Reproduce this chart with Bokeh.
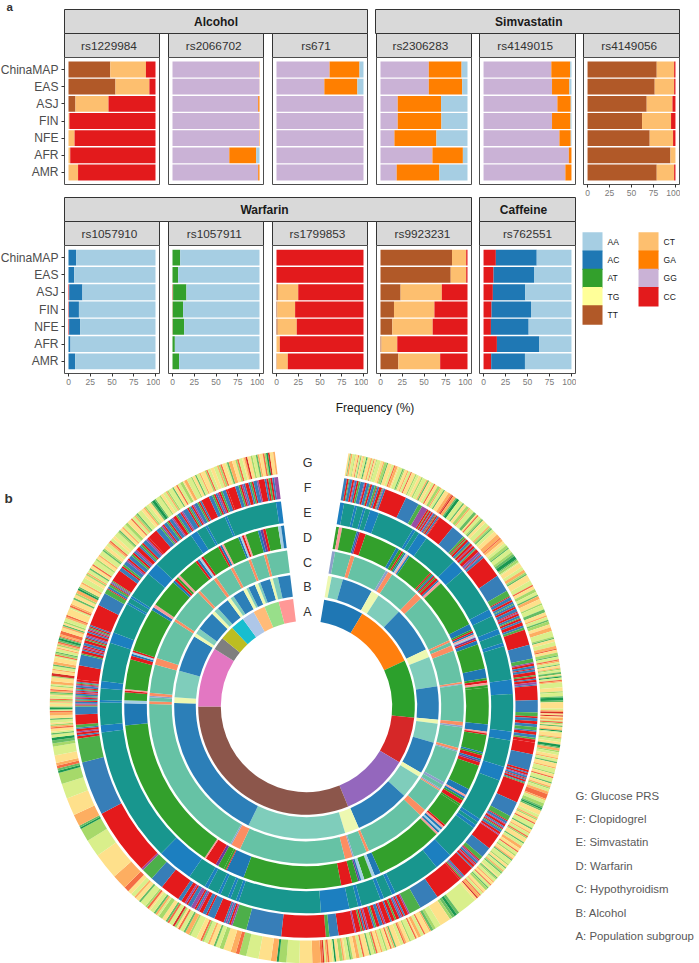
from math import pi
from bokeh.embed import file_html
from bokeh.resources import INLINE
from bokeh.plotting import figure
from bokeh.layouts import column, row
from bokeh.models import Range1d, FactorRange, FixedTicker, ColumnDataSource
from bokeh.core.properties import value

FONT = "Liberation Sans"
pops = ["ChinaMAP", "EAS", "ASJ", "FIN", "NFE", "AFR", "AMR"]
geno_colors = {"AA": "#a6cee3", "AC": "#1f78b4", "AT": "#33a02c", "TG": "#ffff99", "TT": "#b15928",
               "CT": "#fdbf6f", "GA": "#ff7f00", "GG": "#cab2d6", "CC": "#e31a1c"}
legend_col0 = ["AA", "AC", "AT", "TG", "TT"]
legend_col1 = ["CT", "GA", "GG", "CC"]

# frequencies per population, stacked from 0 in the order of *_stack
rs1229984_stack = ["TT", "CT", "CC"]
rs1229984 = [[48, 41, 11], [54, 39, 7], [8, 38, 54], [0, 1, 99], [0, 7, 93], [0, 2, 98], [0, 11, 89]]
rs2066702_stack = ["GG", "GA", "AA"]
rs2066702 = [[99.7, .3, 0], [99.9, .1, 0], [98.5, 1.5, 0], [99.8, .2, 0], [99.5, .5, 0], [65.3, 30.9, 3.8], [98.5, 1.5, 0]]
rs671_stack = ["GG", "GA", "AA"]
rs671 = [[61, 34.4, 4.6], [55, 38, 7], [100, 0, 0], [100, 0, 0], [100, 0, 0], [100, 0, 0], [100, 0, 0]]
rs2306283_stack = ["GG", "GA", "AA"]
rs2306283 = [[55.5, 37.7, 6.8], [55.5, 38.4, 6.1], [19.8, 49.8, 30.4], [19.8, 50.2, 30], [16, 48.3, 35.7], [59.7, 35, 5.3], [18.6, 49.1, 32.3]]
rs4149015_stack = ["GG", "GA", "AA"]
rs4149015 = [[77.1, 21.4, 1.5], [77.9, 19.8, 2.3], [84, 15.2, .8], [77.9, 21, 1.1], [86.3, 12.9, .8], [97, 3, 0], [93.1, 6.9, 0]]
rs4149056_stack = ["TT", "CT", "CC"]
rs4149056 = [[78.7, 19.8, 1.5], [76.4, 22.1, 1.5], [67.3, 29.3, 3.4], [62, 33, 5], [70.7, 26.6, 2.7], [94.3, 5.7, 0], [78.7, 19.8, 1.5]]
rs1057910_stack = ["CC", "AC", "AA"]
rs1057910 = [[0, 8.7, 91.3], [0, 6.5, 93.5], [.8, 15.2, 84], [.5, 11.5, 88], [.7, 12.6, 86.7], [0, 2.3, 97.7], [0, 7.6, 92.4]]
rs1057911_stack = ["TT", "AT", "AA"]
rs1057911 = [[0, 8.8, 91.2], [0, 6.5, 93.5], [.7, 15.3, 84], [.3, 11.9, 87.8], [.3, 13.1, 86.6], [0, 2.7, 97.3], [0, 7.6, 92.4]]
rs1799853_stack = ["TT", "CT", "CC"]
rs1799853 = [[0, 0, 100], [0, 0, 100], [1.5, 23.5, 75], [1, 20.4, 78.6], [1.3, 22, 76.7], [0, 3.8, 96.2], [.4, 12.6, 87]]
rs9923231_stack = ["TT", "CT", "CC"]
rs9923231 = [[82.2, 16.3, 1.5], [80.7, 17.8, 1.5], [23.1, 47.4, 29.5], [15.5, 46.5, 38], [13.6, 46.4, 40], [1.1, 18.2, 80.7], [20.5, 48.1, 31.4]]
rs762551_stack = ["CC", "AC", "AA"]
rs762551 = [[14, 46.5, 39.5], [11.4, 46, 42.6], [10.6, 36.9, 52.5], [9.1, 44.9, 46], [8.4, 42.9, 48.7], [15.2, 48.3, 36.5], [8.7, 38.4, 52.9]]

# circular panel: rings run clockwise from the top, in degrees. Each section = (end angle, runs)
ring_names = ["A", "B", "C", "D", "E", "F", "G"]
ring_inner = [85.7, 110.7, 134.7, 159.7, 184.7, 209, 234]
ring_outer = [108.3, 132.3, 157.3, 182.3, 206.7, 231.3, 256.7]
ring_start = 9.4
ring_legend = ["G: Glucose PRS", "F: Clopidogrel", "E: Simvastatin", "D: Warfarin", "C: Hypothyroidism", "B: Alcohol", "A: Population subgroup"]

ring_a_colors = {"a": "#1f77b4", "b": "#ff7f0e", "c": "#2ca02c", "d": "#d62728", "e": "#9467bd", "f": "#8c564b", "g": "#e377c2",
                 "h": "#7f7f7f", "i": "#bcbd22", "j": "#17becf", "k": "#aec7e8", "l": "#ffbb78", "m": "#98df8a", "n": "#ff9896"}
ring_a = [(31, "a1"), (65, "b1"), (96, "c1"), (121, "d1"), (157.4, "e1"), (270, "f1"), (302, "g1"), (309, "h1"), (316.6, "i1"),
          (324, "j1"), (330.8, "k1"), (337.2, "l1"), (345.1, "m1"), (352.9, "n1")]

ring_b_colors = {"b": "#2c7fb8", "t": "#7fcdbb", "y": "#edf8b1"}
ring_b = [(11, "y1"), (16, "t1"), (29.5, "b1"), (33, "y1"), (44.3, "t1"), (64.5, "b1"), (68, "y1"), (81.2, "t1"), (95.8, "b1"),
          (97.5, "y1"), (105.9, "t1"), (120, "b1"), (122, "y1"), (132.4, "t1"), (156.7, "b1"), (163, "y1"), (206, "t1"),
          (271.5, "b1"), (274, "y1"), (285.7, "t1"), (302, "b1"), (303.5, "y1"), (306, "t1"), (314.5, "b1"), (316, "y1"),
          (318, "t1"), (323.5, "b1"), (325, "y1"), (326.5, "t1"), (331.5, "b1"), (333, "y1"), (334, "t1"), (337, "b1"),
          (338.5, "y1"), (339.5, "t1"), (344, "b1"), (345.2, "y1"), (347.5, "t1"), (352.9, "b1")]

ring_c_colors = {"g": "#66c2a5", "o": "#fc8d62", "p": "#8da0cb"}
ring_c = [(10.5, "p1"), (16.4, "g1"), (17.8, "o1"), (30.3, "g1"), (31.3, "p1"), (33, "o1"), (44.2, "g1"), (46.7, "o1"), (65.1, "g1"),
          (65.9, "o1"), (67.2, "g1"), (69.2, "o1"), (81, "g1"), (82, "o2 p1"), (95.7, "g1"), (97.7, "o2 p1"), (105.3, "g1"),
          (106.7, "o2 p1"), (118.9, "g1"), (119.9, "p1"), (121.4, "g1"), (122.4, "p1 o1"), (131.2, "g1"), (133.7, "o1"),
          (156.6, "g1"), (157.6, "o1"), (162.5, "g1"), (163, "p1"), (165.8, "o1"), (205, "g1"), (208.5, "o1"), (209, "p1"),
          (270.9, "g1"), (271.9, "o1"), (273.4, "g1"), (275, "p1 o2"), (285.5, "g1"), (288, "o1"), (302.8, "g1"), (303.8, "o1"),
          (316.4, "g1"), (317.4, "o1"), (323.9, "g1"), (325.1, "o1"), (331.2, "g1"), (332.2, "o1"), (338.3, "g1"), (339.3, "o1"),
          (344.3, "g1"), (345.3, "o1"), (352.9, "g1")]

ring_d_colors = {"g": "#33a02c", "b": "#1f78b4", "r": "#e31a1c", "l": "#a6cee3", "s": "#fb9a99", "p": "#6a3d9a"}
ring_d = [(10.3, "g1"), (11.3, "s1"), (16, "g1"), (17, "b1 p1"), (19, "r1"), (29.5, "g1"), (34.5, "b2 g2 r1 g1 b1 l1 s1 b1"), (42.8, "g1"),
          (47.5, "r1 g1 b1 r1 g1 r2 b1 s2"), (63.2, "g1"), (65, "b1"), (70, "g1 r1 b1 s1 l1 p1 r1 b2"), (78, "g1"), (81, "b1"),
          (84, "g1 r1 s1 g1"), (95.7, "g1"), (98, "b1"), (99, "s1 r1"), (104.5, "g1"), (109, "b1 g1 r2 b1 p1 r2"), (117, "g1"),
          (119, "b1"), (123, "s1 b1 g1 r2 g1"), (130.5, "g1"), (134.5, "r1 s1 b1 l1 b1 s1"), (156, "g1"), (158, "b1"), (159, "l1"),
          (161.5, "g1"), (162.5, "l1"), (163.5, "b1 p1"), (165.5, "g1"), (169, "r1"), (200.2, "g1"), (206, "b1"), (207, "r1 g2"),
          (209, "g1"), (213.5, "p1 r4"), (214, "s1"), (264, "g1"), (271, "b1"), (272, "l1"), (274.5, "g1"), (275.5, "r1 s1"),
          (285, "g1"), (288, "r2 b1 l1 r1"), (302, "g1"), (304, "b1 s1"), (313, "g1"), (316, "b1 r1 g1 s1"), (322.5, "g1"),
          (325.5, "r1 b1 l1 r1"), (331, "g1"), (333, "r1 b1 s1"), (338, "g1"), (340.5, "b1 l1 r1 s1"), (344.5, "g1"),
          (347, "b1 p1 r1"), (351, "g1"), (352.9, "l1 b1")]

ring_e_colors = {"t": "#18968e", "b": "#1c7fc0"}
ring_e = [(10.5, "b1"), (13.5, "t1"), (14.2, "b1"), (16, "t1"), (16.6, "b1"), (18, "t1"), (20.5, "b1"), (31, "t1"), (31.8, "b1"), (33, "t1"),
          (35.5, "b1"), (45.5, "t1"), (49, "b1"), (62, "t1"), (64, "b1"), (68, "t1"), (69.5, "b1"), (72, "t1"), (73, "b1"), (82.5, "t1"),
          (86.5, "b1"), (97, "t1"), (99.5, "b1"), (107, "t1"), (111, "b1"), (123, "t1"), (124, "b1"), (125, "t1"), (126, "b1"),
          (136, "t1"), (141, "b1"), (154.5, "t1"), (155.5, "b1"), (158, "t1"), (159, "b1"), (164.5, "t1"), (165.5, "b1"), (168, "t1"),
          (176, "b1"), (199.2, "t1"), (200, "b1"), (201.6, "t1"), (202.4, "b1"), (204.6, "t1"), (205.4, "b1"), (208.5, "t1"), (209.5, "b1"),
          (214.5, "t1"), (224.7, "b1"), (262.8, "t1"), (264.8, "b1"), (271.2, "t1"), (271.8, "b1"), (275.1, "t1"), (277.1, "b1"),
          (288, "t1"), (291, "b1"), (299.7, "t1"), (300.3, "b1"), (301.7, "t1"), (302.3, "b1"), (310, "t1"), (313.5, "b1"),
          (326, "t1"), (328, "b1"), (330.7, "t1"), (331.3, "b1"), (336.7, "t1"), (337.3, "b1"), (351.5, "t1"), (352.9, "b1")]

ring_f_colors = {"r": "#e41a1c", "b": "#377eb8", "g": "#4daf4a", "p": "#984ea3"}
ring_f = [(20, "b3 r2 g1 b3 r2 p1 b2 r2 g2 b4 p1 r2 b3 g1 r2 b3 g2 r1 b2 r3 g1 p1 b2"), (25.5, "r1"), (29, "b1"), (30, "g1"), (31.5, "p1"),
          (35.2, "r2 g1 r2 b1 r2 p1 b2 r1 g1 r2 b2 r1"), (39.2, "r1"), (42.7, "b1"), (50, "g2 r1 g1 r2 b2 g1 r2 p1 r2 b1 g1 r3 p2 b1 r1 p1 b2"),
          (55.6, "r1"), (60, "b1"), (61.5, "g1"), (70, "r1 b3 r2 b2 g1 b2 r2 b3 r1 p1 r2 b2 g1 r2 b2 r3 b2"), (70.6, "g1"), (74.5, "r1"), (78, "b1"),
          (79, "g1"), (84.8, "p1 r2 b2 r1 b2 r3 g1 r2 b1 r2 p2 b1"), (88.4, "r1"), (91.5, "b1"), (92.5, "g1"),
          (99, "r1 b2 r2 b2 g2 b1 r2 b2 g1 r2"), (102, "r1"), (106, "b1"), (109.5, "r2 b1 r2 p1 b2 r1 b1 r2 b1 g1"), (114.5, "r1"), (118.3, "b1"),
          (119.5, "g1"), (123.8, "r1 b2 p1 r2 b1 p1 r1 g1 b2 r2 p1"), (127.8, "r1"), (130.5, "b1"), (131.5, "g1"), (134.3, "r1 p1 b2 r1 p1 r2 b1"),
          (137, "r1"), (138.5, "b1 p1 g1 r1"), (145.5, "r1"), (150.5, "b1"), (153.5, "g1"),
          (168, "p1 r2 b1 r1 p1 b1 r2 g1 r2 b1 r3 p1 r1 b2 r2 g1 b1 r3 p1 r1 b1 r1 g1 r3 p1"), (172, "r1"), (174.3, "b1"), (175.2, "g1"), (186.3, "r1"),
          (195.1, "b1"), (198.7, "g1"), (201, "p1 r1 b1 p1 b1"), (203.5, "r1"), (205.3, "b1"), (213.7, "r1 b2 r2 p1 b1 r1 p2 b2 r1 p1 r2 b2"),
          (218.7, "r1"), (222, "b1"), (225, "g1"), (225.5, "p1"), (242.4, "r1"), (256, "b1"), (262, "g1"), (264.7, "r2 b1 r2 p1 r2 b1"), (265.5, "g1"),
          (268, "r1"), (270, "b1"), (276.7, "g1 r1 p1 b2 r1 g1 b1 r1 p1 g1 b2 r1 p1 r1 b1 g1 r1 b2 p1 r1 g1 b1 r2"), (280.3, "r1"), (283, "b1"),
          (290.7, "g1 r2 b1 r1 p1 r1 b2 r2 g1 r1 b1 p1 r2 b1 r1 p1 g1 r1 b1"), (296, "r1"), (299.3, "b1"), (300.5, "g1"),
          (303, "r1 b2 g2 r1 b1 p1 g1"), (306, "r1"), (317, "b2 r1 g1 b2 p1 r1 b2 g1 r1 b1 p1 r2 b1 g1 r1 b2 p1 r1"), (319.5, "r1"),
          (333, "b3 g1 p1 r1 b2 g1 r1 b2 p1 r2 g1 b2 r1 p1 b3 r1 g1 b1 r1 p1 b2 g1 r1 b1"), (335, "r1"), (340, "b2 g1 r1 b1 p1 r1 g1 b2 r1"),
          (342, "r1"), (348, "b2 g1 r1 p1 b1 r2 b1 g1 r1 b2 p1"), (349.5, "r1"), (352.9, "b1 r1 g1 r1 b1 p2")]

ring_g_colors = {"y": "#fee08b", "l": "#d9ef8b", "m": "#a6d96a", "o": "#fdae61", "d": "#f46d43", "e": "#66bd63", "f": "#1a9850", "k": "#d73027"}
ring_g = [(16, "y2 e1 o2 l3 m1 y3 d1 l2 e1 y2 o1 l3 f1 m1 y3 o2 l2 d1 y2 m1"),
          (26, "l3 y2 o1 m2 e1 y3 l2 d1 o2 y1 l3 e1 m1 y2 o1 l2 d1 y3 m1 l2"),
          (36.5, "y2 m1 l3 o1 e1 y2 l2 d1 y2 m2 o1 l2 e1 y3 o2 d1 k1 o2 e1 f2"),
          (47, "l3 e1 y2 m2 o1 l3 e2 y1 d1 l2 m1 e1 y2 l3 o1 m1 e1 l2"),
          (53, "y3 o3 d1 o2 y2 l2 m2 e1 l3"), (56, "m2 e2 f3 e1 m2 l1"),
          (72, "y3 l2 o2 m1 e1 y4 l3 d1 y2 m2 l2 e1 o2 y3 m1 l3 e2 y2 o1 l2 e1 m2 y2"),
          (80, "o3 l4 m1 e1 y2 l3 o2 d1 y2 m2 e1 l2 d1 o1"), (84, "l2 e1 y2 o1 m1 l2 e2 y1 m1 f1 l2"), (88, "d1 o1 l4 y3 m1 l3 e1"),
          (89, "f2 e1"), (92, "y4 l1 o1 k1 y1"), (96, "k1 y1 o2 l1 d1 m1 y1 e1 y2 o1 f1 l1"), (100, "y3 o1 m1 l2 y2 f2 e1 o2"),
          (110, "m1 l2 y2 o1 l2 e1 y3 o1 l3 m1 y2 d1 l3 e1 y2 o1 m1 l2 o2"), (111.5, "d3 o1"), (114, "l2 m2 e1 f1 e1"),
          (128, "y3 l2 o1 m1 y2 d1 l3 e1 y2 o1 l2 d1 m1 y3 e1 l2 o2 y2 d1 l2 m1 y2 o1 e1 l3"),
          (139, "m1 y2 e1 l2 o1 m1 e1 l3 y1 e1 m1 l2 o1 y2 d1 l2 e1 m2 y2 o1 l2 d1 o2 k1 y2"), (143.5, "l1"), (146, "e1 f1 e1 m1"), (148.5, "y1"),
          (151, "l2 m1 e1"), (162, "o1 y3 d1 l2 o2 y1 d1 l3 m1 y2 o1 d1 l2 y3 e1 o1 l1 d1 y2 m1"),
          (176, "l2 o1 y2 d1 m1 l2 e1 y3 d1 l2 o2 y2 m1 e1 l2 y1 o1 m2 y2 f1 l1 y2 d1 o1 l1"),
          (176.3, "k1"), (176.8, "d1"), (178.7, "o1"), (181.6, "y1"), (184.5, "l1"), (186.2, "m1"), (186.7, "f1"), (188, "o1"), (190.8, "y1"),
          (193.6, "l1"), (195.2, "m1"), (196, "d1"), (197.2, "o1"), (198.9, "y1"),
          (224, "m2 l2 e1 y2 o1 l2 m1 d1 y2 l3 m1 o2 e1 l2 d1 y1 m1 k1 l2 d1 e1 y2 m2 l1 o1 e1 l2 y1 d1 m1 l3 e1 y2 o1 l2 y2"),
          (228.5, "d1 o3"), (234.5, "y1"), (238.5, "l1"), (241.5, "m1"), (242.3, "f1 e1"), (245, "o1"), (249, "y1"), (252.4, "l1"), (255, "m1"),
          (256, "f1 e1"), (257.3, "d1 o1"), (259, "y1"), (261, "l1"), (262.4, "m1 e1"), (263, "f1"),
          (270, "l2 e1 l1 y2 d1 o1 m1 y1 l2 e1 y2 o2 d1 l1 f1 e1"), (277.5, "y2 l1 o1 m1 d1 l2 y1 m1 e1 o1 d1 y2 m1 l1 o2 y3 m1 k2"),
          (285, "y2 o1 l2 e1 o2 y3 l1 d1 m1 e1 l2 o1 y1 m1 o1 d1 e1"), (286, "f2 e1 d1"),
          (297, "o1 d2 y2 o1 e1 y1 m1 l2 o1 d1 y4 l1 d1 o1 y3 e1 y2 m1 o2"), (299, "f1 e1 y2 o1"),
          (311, "l3 y2 m1 o1 l2 e1 y2 d1 l3 m1 y2 o1 l3 e1 m1 y2 l2 o1 d1 l2"),
          (323, "y2 l3 m1 e1 y2 o1 l2 m2 y3 d1 l2 o1 m1 e1 l3 y2 o1 m1 l2 y2 e1"), (324, "f2 e1"),
          (338, "l3 m1 y2 l2 o1 m1 l3 e1 y2 d1 l2 m2 y1 o2 l3 m1 y2 e1 l2 o1 y3 m1 d1 l2"),
          (352.9, "y2 l2 o1 m1 d1 y2 l1 e1 o2 y2 m1 d1 l2 y1 o1 k1 y2 m1 l2 e1 o1 y2 d1 m1 f1 k1 y2 o1")]

LINE = "#4d4d4d"


def bare(**kw):
    p = figure(x_axis_location=None, y_axis_location=None, toolbar_location=None, output_backend="svg", **kw)
    p.xgrid.visible = False
    p.ygrid.visible = False
    p.outline_line_color = None
    p.border_fill_color = None
    p.background_fill_color = None
    return p


def strip(x0, x1, y0, label, size, bold, color, margin_left, margin_top, shift=0):
    p = bare(width=x1 - x0 + 2, height=y0[1] - y0[0] + 2, x_range=Range1d(0, 1), y_range=Range1d(0, 1), min_border=1,
             margin=(margin_top, 0, 0, margin_left))
    p.background_fill_color = "#d9d9d9"
    p.outline_line_color = "#333333"
    p.outline_line_width = 1
    p.text([0.5], [0.5], text=[label], x_offset=shift, text_align="center", text_baseline="middle", text_font=value(FONT),
           text_font_size=size, text_font_style="bold" if bold else "normal", text_color=color)
    return p


def panel(stack, rows, x0, x1, y0, y1, show_y, show_x, margin_left, margin_top):
    left = 84 if show_y else 1
    fw = x1 - x0
    p = figure(width=fw + left + 1, height=y1 - y0 + 1 + 16,
               x_range=Range1d(-4.6, 104.6),
               y_range=FactorRange(factors=list(reversed(pops)), range_padding=0.2, range_padding_units="absolute"),
               x_axis_location="below" if show_x else None, y_axis_location="left" if show_y else None,
               min_border_left=left, min_border_right=1, min_border_top=1, min_border_bottom=16,
               toolbar_location=None, output_backend="svg", margin=(margin_top, 0, 0, margin_left))
    p.xgrid.visible = False
    p.ygrid.visible = False
    p.border_fill_color = None
    p.outline_line_color = LINE
    p.outline_line_width = 1
    lefts = [0.0] * len(pops)
    for j, g in enumerate(stack):
        vals = [r[j] for r in rows]
        p.hbar(y=pops, left=lefts, right=[a + b for a, b in zip(lefts, vals)], height=0.92, color=geno_colors[g], line_color=None)
        lefts = [a + b for a, b in zip(lefts, vals)]
    if show_x:
        p.xaxis.ticker = FixedTicker(ticks=[0, 25, 50, 75, 100])
        p.xaxis.major_label_text_font = FONT
        p.xaxis.major_label_text_font_size = "8.5px"
        p.xaxis.major_label_text_color = "#7a7a7a"
        p.xaxis.major_label_standoff = 2
        p.xaxis.axis_line_color = None
        p.xaxis.major_tick_line_color = "#333333"
        p.xaxis.major_tick_out = 3
        p.xaxis.major_tick_in = 0
        p.xaxis.minor_tick_line_color = None
    if show_y:
        p.yaxis.major_label_text_font = FONT
        p.yaxis.major_label_text_font_size = "12.1px"
        p.yaxis.major_label_text_color = "#4d4d4d"
        p.yaxis.major_label_standoff = 3
        p.yaxis.axis_line_color = None
        p.yaxis.major_tick_line_color = "#333333"
        p.yaxis.major_tick_out = 3
        p.yaxis.major_tick_in = 0
    return p


X = [(64, 159), (168, 263), (272, 367), (376, 471), (479, 575), (583, 679)]

# --- first block
a_fig = bare(width=40, height=14, x_range=Range1d(0, 40), y_range=Range1d(0, 14), min_border=0, margin=(0, 0, 0, 0))
a_fig.text([6], [0.5], text=["a"], text_font=value(FONT), text_font_size="11.5px", text_font_style="bold", text_color="#333333")

r1 = row(a_fig,
         strip(64, 367, (9, 33), "Alcohol", "12px", True, "#1a1a1a", 63 - 40, 8),
         strip(375, 679, (9, 33), "Simvastatin", "12px", True, "#1a1a1a", 374 - 368, 8, 1.3),
         spacing=0)

names1 = ["rs1229984", "rs2066702", "rs671", "rs2306283", "rs4149015", "rs4149056"]
shifts1 = [-3, -2.3, -4, -3.6, -2.3, -2.3]
names2 = ["rs1057910", "rs1057911", "rs1799853", "rs9923231", "rs762551"]
shifts2 = [-2.5, -1.7, -2.5, -1.5, 0]


def sub_strips(names, shifts, y, margin_top):
    out = []
    cur = 0
    for (a, b), n, s in zip(X, names, shifts):
        out.append(strip(a, b, y, n, "11.8px", False, "#333333", a - 1 - cur, margin_top, s))
        cur = b + 1
    return row(*out, spacing=0)


r2 = sub_strips(names1, shifts1, (33, 57), -2)

data1 = [(rs1229984_stack, rs1229984), (rs2066702_stack, rs2066702), (rs671_stack, rs671),
         (rs2306283_stack, rs2306283), (rs4149015_stack, rs4149015), (rs4149056_stack, rs4149056)]
cur = 0
ch = []
for i, ((st, rows_), (a, b)) in enumerate(zip(data1, X)):
    p = panel(st, rows_, a, b, 57, 184, i == 0, i == 5, -20 if i == 0 else a - 1 - cur, -2)
    ch.append(p)
    cur = b + 1
r3 = row(*ch, spacing=0)

# --- second block
cap_strips = row(strip(64, 471, (197, 221), "Warfarin", "12px", True, "#1a1a1a", 63, -4, -3.5),
                 strip(479, 575, (197, 221), "Caffeine", "12px", True, "#1a1a1a", 478 - 472, -4, -4), spacing=0)
r5 = sub_strips(names2, shifts2, (221, 245), -2)

data2 = [(rs1057910_stack, rs1057910), (rs1057911_stack, rs1057911), (rs1799853_stack, rs1799853),
         (rs9923231_stack, rs9923231), (rs762551_stack, rs762551)]
cur = 0
ch = []
for i, ((st, rows_), (a, b)) in enumerate(zip(data2, X)):
    p = panel(st, rows_, a, b, 245, 373, i == 0, True, -20 if i == 0 else a - 1 - cur, -2)
    ch.append(p)
    cur = b + 1

# legend: 56 px between columns, 21.3 px between rows
leg = bare(width=121, height=117, x_range=Range1d(-0.25, 1.91), y_range=Range1d(4.8, -0.69), min_border=0,
           margin=(-18, 0, 0, 578 - cur))
for col_i, names in enumerate([legend_col0, legend_col1]):
    rows_i = list(range(len(names)))
    xs = [col_i] * len(names)
    leg.rect(xs, rows_i, width=20, height=19.5, width_units="screen", height_units="screen",
             color=[geno_colors[n] for n in names], line_color=None)
    leg.text(xs, rows_i, text=names, x_offset=15, text_baseline="middle", text_font=value(FONT),
             text_font_size="8.5px", text_color="#1a1a1a")
ch.append(leg)
r6 = row(*ch, spacing=0)

freq = bare(width=699, height=20, x_range=Range1d(0, 699), y_range=Range1d(0, 20), min_border=0, margin=(8, 0, 0, 0))
freq.text([374.5], [10], text=["Frequency (%)"], text_align="center", text_baseline="middle", text_font=value(FONT),
          text_font_size="12px", text_color="#1a1a1a")

# --- circular panel (1 data unit = 1 px, origin at the centre of the circle)
circ = bare(width=699, height=547, x_range=Range1d(-306, 393), y_range=Range1d(-257, 290), min_border=0, margin=(-1, 0, 0, 0))


def expand(sections, colors):
    starts, ends, cols = [], [], []
    prev = ring_start
    for end, runs in sections:
        toks = runs.split()
        total = sum(int(t[1:]) for t in toks)
        a = prev
        for t in toks:
            b = a + (end - prev) * int(t[1:]) / total
            starts.append(a)
            ends.append(b)
            cols.append(colors[t[0]])
            a = b
        prev = end
    return starts, ends, cols


rings = [(ring_a, ring_a_colors), (ring_b, ring_b_colors), (ring_c, ring_c_colors), (ring_d, ring_d_colors),
         (ring_e, ring_e_colors), (ring_f, ring_f_colors), (ring_g, ring_g_colors)]
for (sections, colors), r0, r1_ in zip(rings, ring_inner, ring_outer):
    s, e, c = expand(sections, colors)
    src = ColumnDataSource(dict(start=[pi / 2 - v * pi / 180 for v in e], end=[pi / 2 - v * pi / 180 for v in s], color=c))
    circ.annular_wedge(x=0, y=0, inner_radius=r0, outer_radius=r1_, start_angle="start", end_angle="end", color="color",
                       line_color=None, source=src)

circ.text([1] * 7, [(a + b) / 2 - 2 for a, b in zip(ring_inner, ring_outer)], text=ring_names, text_align="center", text_baseline="middle",
          text_font=value(FONT), text_font_size="12.5px", text_color="#333333")
circ.text([269] * 7, [-89 - 23.4 * i for i in range(7)], text=ring_legend, text_baseline="middle", text_font=value(FONT),
          text_font_size="11.4px", text_color="#595959")
circ.text([-302], [201], text=["b"], text_font=value(FONT), text_font_size="13.5px", text_font_style="bold", text_color="#333333")

root = column(r1, r2, r3, cap_strips, r5, r6, freq, circ, spacing=0)
open("out.html", "w").write(file_html(root, INLINE))
